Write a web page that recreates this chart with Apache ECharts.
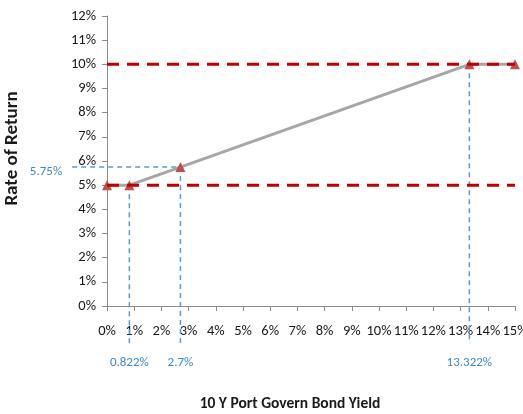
<!DOCTYPE html>
<html>
<head>
<meta charset="utf-8">
<script src="https://cdn.jsdelivr.net/npm/echarts@6/dist/echarts.min.js"></script>
<style>
  html, body { margin: 0; padding: 0; background: #fff; }
  #chart { width: 523px; height: 414px; }
</style>
</head>
<body>
<div id="chart"></div>
<script>
// Yield (x, %) vs required rate of return (y, %)
const yieldPts = [0, 0.822, 2.7, 13.322, 15];
const returnPts = [5, 5, 5.75, 10, 10];

// Floor and cap levels
const floorRate = 5;
const capRate = 10;

// Guide lines to the breakpoints and their labels
const guideX = [0.822, 2.7, 13.322];
const guideXTop = [5, 5.75, 10];
const guideXLabels = ['0.822%', '2.7%', '13.322%'];
const guideY = 5.75;
const guideYRight = 2.7;
const guideYLabel = '5.75%';

const xRange = [0, 15];
const yRange = [0, 12];

// How far the guides run past the axes (in axis units)
const guideBelow = -1.55;
const guideLeft = -1.28;

const FONT = '"Carlito", "DejaVu Sans Condensed", "Liberation Sans Narrow", sans-serif';
const BLUE = '#5b9bd5';
const BLUE_TXT = '#3f87c8';

const chart = echarts.init(document.getElementById('chart'));

const dashStyle = { stroke: BLUE, lineWidth: 1.5, lineDash: [5, 4] };

const vGuides = {
  type: 'custom',
  silent: true,
  z: 1,
  encode: { x: 0, y: 1 },
  data: guideX.map((x, i) => [x, guideXTop[i], guideBelow]),
  renderItem: (params, api) => {
    const p1 = api.coord([api.value(0), api.value(1)]);
    const p2 = api.coord([api.value(0), api.value(2)]);
    return {
      type: 'group',
      children: [
        { type: 'line', shape: { x1: p1[0], y1: p1[1], x2: p2[0], y2: p2[1] }, style: dashStyle },
        { type: 'text', x: p2[0], y: p2[1] + 13,
          style: { text: guideXLabels[params.dataIndex], fill: BLUE_TXT, font: '13px ' + FONT, align: 'center', verticalAlign: 'top' } }
      ]
    };
  }
};

const hGuide = {
  type: 'custom',
  silent: true,
  z: 1,
  encode: { x: 0, y: 1 },
  data: [[guideLeft, guideY, guideYRight]],
  renderItem: (params, api) => {
    const p1 = api.coord([api.value(0), api.value(1)]);
    const p2 = api.coord([api.value(2), api.value(1)]);
    return {
      type: 'group',
      children: [
        { type: 'line', shape: { x1: p1[0], y1: p1[1], x2: p2[0], y2: p2[1] }, style: dashStyle },
        { type: 'text', x: p1[0] - 10, y: p1[1] + 5,
          style: { text: guideYLabel, fill: BLUE_TXT, font: '13px ' + FONT, align: 'right', verticalAlign: 'middle' } }
      ]
    };
  }
};

const levelLine = (v) => ({
  type: 'line',
  data: [[xRange[0], v], [xRange[1], v]],
  symbol: 'none',
  silent: true,
  z: 4,
  lineStyle: { color: '#c00000', width: 3, type: [12, 8] }
});

chart.setOption({
  animation: false,
  grid: { left: 107, right: 8, top: 16, bottom: 108, containLabel: false, outerBoundsMode: 'none' },
  xAxis: {
    type: 'value',
    min: xRange[0], max: xRange[1], interval: 1,
    name: '10 Y Port Govern Bond Yield',
    nameLocation: 'middle',
    nameGap: 90,
    nameTextStyle: { fontFamily: FONT, fontSize: 15.5, fontWeight: 'bold', color: '#1a1a1a', padding: [0, 42, 0, 0] },
    axisLine: { show: true, lineStyle: { color: '#8c8c8c', width: 1 } },
    axisTick: { show: true, length: 5, lineStyle: { color: '#8c8c8c' } },
    axisLabel: { formatter: '{value}%', fontFamily: FONT, fontSize: 14.5, color: '#1a1a1a', margin: 18 },
    splitLine: { show: false }
  },
  yAxis: {
    type: 'value',
    min: yRange[0], max: yRange[1], interval: 1,
    name: 'Rate of Return',
    nameLocation: 'middle',
    nameGap: 85,
    nameTextStyle: { fontFamily: FONT, fontSize: 19, fontWeight: 'bold', color: '#1a1a1a', padding: [0, 0, 0, 25] },
    axisLine: { show: true, lineStyle: { color: '#8c8c8c', width: 1 } },
    axisTick: { show: true, length: 5, lineStyle: { color: '#8c8c8c' } },
    axisLabel: { formatter: '{value}%', fontFamily: FONT, fontSize: 14.5, color: '#1a1a1a', margin: 11 },
    splitLine: { show: false }
  },
  series: [
    vGuides,
    hGuide,
    {
      type: 'line',
      data: yieldPts.map((x, i) => [x, returnPts[i]]),
      symbol: 'triangle',
      symbolSize: 10,
      z: 3,
      clip: false,
      lineStyle: { color: '#a6a6a6', width: 3 },
      itemStyle: { color: '#c0504d', borderColor: '#c0504d', borderWidth: 0 }
    },
    levelLine(floorRate),
    levelLine(capRate)
  ]
});
</script>
</body>
</html>
